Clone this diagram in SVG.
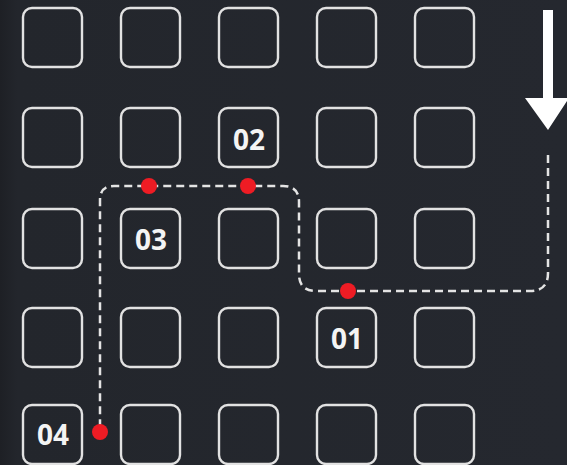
<svg xmlns="http://www.w3.org/2000/svg" width="567" height="465" viewBox="0 0 567 465">
<style>
.box{fill:none;stroke:#e2e2e2;stroke-width:2.4}
.lbl{font-family:"Noto Sans","Open Sans",sans-serif;font-weight:bold;font-size:28px;fill:#f4f4f4;text-anchor:middle}
.path{fill:none;stroke:#e4e4e4;stroke-width:2.5;stroke-dasharray:8 5}
.dot{fill:#ee1c24}
</style>
<defs>
<rect id="b" width="59" height="59" rx="9" class="box"/>
<linearGradient id="bg" x1="0" x2="1" y1="0" y2="0">
<stop offset="0" stop-color="#1e2025"/>
<stop offset="0.03" stop-color="#23262c"/>
<stop offset="1" stop-color="#25282f"/>
</linearGradient>
</defs>
<rect width="567" height="465" fill="url(#bg)"/>
<g id="grid">
<use href="#b" x="23" y="8"/><use href="#b" x="121" y="8"/><use href="#b" x="219" y="8"/><use href="#b" x="317" y="8"/><use href="#b" x="415" y="8"/>
<use href="#b" x="23" y="108"/><use href="#b" x="121" y="108"/><use href="#b" x="415" y="108"/><use href="#b" x="317" y="108"/>
<use href="#b" x="23" y="209"/><use href="#b" x="219" y="209"/><use href="#b" x="317" y="209"/><use href="#b" x="415" y="209"/>
<use href="#b" x="23" y="308"/><use href="#b" x="121" y="308"/><use href="#b" x="219" y="308"/><use href="#b" x="415" y="308"/>
<use href="#b" x="121" y="405"/><use href="#b" x="219" y="405"/><use href="#b" x="317" y="405"/><use href="#b" x="415" y="405"/>
</g>
<g id="node02"><use href="#b" x="219" y="108"/><text class="lbl" x="249" y="150">02</text></g>
<g id="node03"><use href="#b" x="121" y="209"/><text class="lbl" x="151" y="250">03</text></g>
<g id="node01"><use href="#b" x="317" y="308"/><text class="lbl" x="347" y="349">01</text></g>
<g id="node04"><use href="#b" x="23" y="405"/><text class="lbl" x="53" y="445">04</text></g>
<g id="connectors">
<path class="path" d="M548 155 V273 Q548 291 530 291 H316 Q299 291 299 274 V202 Q299 186 283 186 H114 Q100 186 100 200 V432"/>
<path d="M543 10 H553 V98 H569 L548 130 L525 98 H543 Z" fill="#ffffff"/>
<circle class="dot" cx="348" cy="291" r="8"/>
<circle class="dot" cx="248" cy="186" r="8"/>
<circle class="dot" cx="149" cy="186" r="8"/>
<circle class="dot" cx="100" cy="432" r="8"/>
</g>
</svg>
